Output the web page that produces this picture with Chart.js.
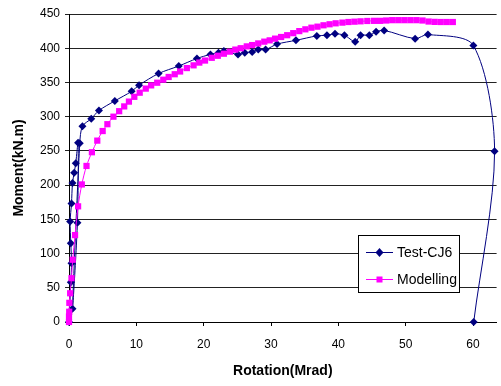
<!DOCTYPE html>
<html>
<head>
<meta charset="utf-8">
<title>Moment vs Rotation</title>
<script src="https://cdn.jsdelivr.net/npm/chart.js"></script>
<style>
  html, body { margin: 0; padding: 0; background: #fff; }
  #chart { display: block; }
</style>
</head>
<body>
<canvas id="chart" width="501" height="386"></canvas>
<script>
// values
const testRotation = [0, 0.27, 0.37, 0.27, 0.17, 0.37, 0.52, 0.77, 1.0, 1.35, 1.25, 0.52, 1.6, 2.0, 3.3, 4.45,
    6.8, 9.3, 10.4, 13.3, 16.3, 19.0, 21.0, 22.2, 23.0, 25.1, 26.1, 27.2, 28.1, 29.2, 30.9, 33.7, 36.8, 38.3,
    39.5, 40.9, 42.5, 43.3, 44.6, 45.6, 46.8, 51.4, 53.3, 60.05, 63.2, 60.1];
const testMoment = [0, 58, 86, 115, 147, 173, 203, 218, 232, 262, 145, 19.5, 261, 286, 297, 309,
    323, 337, 346, 363, 374, 385, 391, 393.5, 396, 391, 393.5, 394.5, 398, 398, 406, 411.5, 418, 419,
    421, 419, 409.5, 419, 419, 424, 426, 414, 420, 404, 249.5, 0];

const modelRotation = [0, 0, 0.03, 0.05, 0.17, 0.37, 0.55, 0.9, 1.35, 1.9, 2.6, 3.4, 4.2, 5.0, 5.7, 6.6,
    7.45, 8.2, 8.9, 9.7, 10.5, 11.4, 12.2, 13.1, 14.0, 14.8, 15.7, 16.5, 17.5, 18.5, 19.35, 20.2, 21.2,
    22.1, 23.0, 23.9, 24.7, 25.5, 26.4, 27.2, 28.1, 29.0, 29.8, 30.6, 31.5, 32.4, 33.3, 34.2, 35.1, 36.0,
    36.9, 37.8, 38.7, 39.6, 40.6, 41.5, 42.4, 43.3, 44.3, 45.3, 46.2, 47.1, 48.0, 48.9, 49.8, 50.7, 51.6,
    52.5, 53.4, 54.3, 55.2, 56.1, 57.0];
const modelMoment = [0, 8, 15, 28, 42, 64, 91, 127, 169, 201, 228, 248, 265, 279, 289, 300,
    308, 315, 322, 329, 335, 341, 345.7, 349.6, 354, 358, 362, 366, 371, 375, 379, 382, 386,
    389, 392, 395, 398, 400, 402.7, 404.6, 407, 409.6, 411.5, 414, 416.4, 419, 422, 425, 427.6, 430,
    431.5, 433.5, 435, 436.4, 437.4, 438.3, 438.8, 439.3, 439.8, 440, 440, 440.5, 441, 441, 441, 441, 441,
    440.5, 439, 438.5, 438.3, 438.3, 438.3];

const seriesNames = ['Test-CJ6', 'Modelling'];
const xTitle = 'Rotation(Mrad)';
const yTitle = 'Moment(kN.m)';

const navy = '#000080';
const magenta = '#FF00FF';

const toPoints = (xs, ys) => xs.map((x, i) => ({ x: x, y: ys[i] }));

// legend box drawn inside the plot, like the spreadsheet one
const boxLegend = {
    id: 'boxLegend',
    afterDraw(chart) {
        const ctx = chart.ctx;
        const rows = [
            { name: seriesNames[0], color: navy, shape: 'diamond', y: 252 },
            { name: seriesNames[1], color: magenta, shape: 'square', y: 279 }
        ];
        ctx.save();
        ctx.fillStyle = '#fff';
        ctx.fillRect(358, 235, 101, 58);
        ctx.strokeStyle = '#000';
        ctx.lineWidth = 1;
        ctx.strokeRect(358.5, 235.5, 101, 57);
        rows.forEach(r => {
            ctx.strokeStyle = r.color;
            ctx.beginPath();
            ctx.moveTo(366, r.y + 0.5);
            ctx.lineTo(393, r.y + 0.5);
            ctx.stroke();
            ctx.fillStyle = r.color;
            ctx.beginPath();
            if (r.shape === 'diamond') {
                ctx.moveTo(379.5, r.y - 4);
                ctx.lineTo(383.5, r.y + 0.5);
                ctx.lineTo(379.5, r.y + 5);
                ctx.lineTo(375.5, r.y + 0.5);
            } else {
                ctx.rect(376.5, r.y - 2.5, 6, 6);
            }
            ctx.closePath();
            ctx.fill();
            ctx.fillStyle = '#000';
            ctx.font = '14px "Liberation Sans", Arial, sans-serif';
            ctx.textBaseline = 'middle';
            ctx.textAlign = 'left';
            ctx.fillText(r.name, 397, r.y + 1);
        });
        ctx.restore();
    }
};

const ctx = document.getElementById('chart');

new Chart(ctx, {
    type: 'line',
    data: {
        datasets: [{
            label: seriesNames[0],
            data: toPoints(testRotation, testMoment),
            borderColor: navy,
            backgroundColor: navy,
            borderWidth: 1,
            pointStyle: 'rectRot',
            pointRadius: 4,
            pointBorderWidth: 0,
            tension: 0.3,
            clip: false,
            order: 2
        }, {
            label: seriesNames[1],
            data: toPoints(modelRotation, modelMoment),
            borderColor: magenta,
            backgroundColor: magenta,
            borderWidth: 1,
            pointStyle: 'rect',
            pointRadius: 4.4,
            pointBorderWidth: 0,
            tension: 0.3,
            clip: false,
            order: 1
        }]
    },
    options: {
        responsive: false,
        animation: false,
        layout: { padding: { top: 14, right: 1, left: 0, bottom: 0 } },
        plugins: {
            legend: { display: false },
            tooltip: { enabled: false }
        },
        scales: {
            x: {
                type: 'linear',
                min: 0,
                max: 63.5,
                ticks: {
                    stepSize: 10,
                    includeBounds: false,
                    color: '#000',
                    padding: 11,
                    maxRotation: 0,
                    font: { family: '"Liberation Sans", Arial, sans-serif', size: 12 }
                },
                grid: {
                    drawOnChartArea: false,
                    drawTicks: true,
                    tickLength: 4,
                    color: '#000'
                },
                border: { color: '#000', width: 1 },
                title: {
                    display: true,
                    text: xTitle,
                    color: '#000',
                    padding: { top: 0, bottom: 6 },
                    font: { family: '"Liberation Sans", Arial, sans-serif', size: 14, weight: 'bold' }
                },
                afterFit: (scale) => { scale.height = 64; }
            },
            y: {
                min: 0,
                max: 450,
                ticks: {
                    stepSize: 50,
                    color: '#000',
                    padding: 5,
                    font: { family: '"Liberation Sans", Arial, sans-serif', size: 12 }
                },
                grid: {
                    color: '#222',
                    lineWidth: 1,
                    tickLength: 4
                },
                border: { color: '#000', width: 1 },
                title: {
                    display: true,
                    text: yTitle,
                    color: '#000',
                    padding: { top: 10.5, bottom: 0 },
                    font: { family: '"Liberation Sans", Arial, sans-serif', size: 14, weight: 'bold' }
                },
                afterFit: (scale) => { scale.width = 69; }
            }
        }
    },
    plugins: [boxLegend]
});
</script>
</body>
</html>
